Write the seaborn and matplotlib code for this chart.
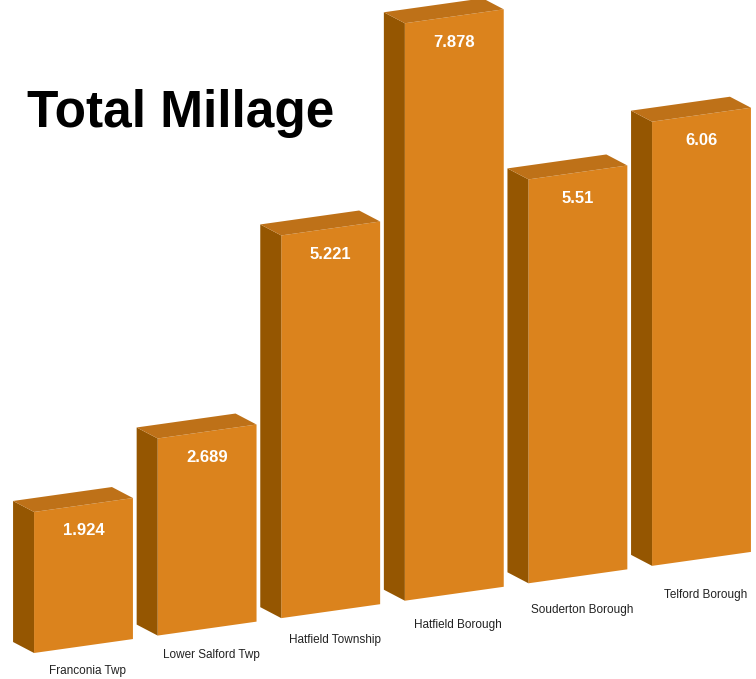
import numpy as np
import pandas as pd
import seaborn as sns
import matplotlib.pyplot as plt
from matplotlib.patches import Polygon
from matplotlib.transforms import Affine2D

# Data
places = ['Franconia Twp', 'Lower Salford Twp', 'Hatfield Township',
          'Hatfield Borough', 'Souderton Borough', 'Telford Borough']
millage = [1.924, 2.689, 5.221, 7.878, 5.51, 6.06]
value_labels = ['1.924', '2.689', '5.221', '7.878', '5.51', '6.06']

df = pd.DataFrame({'place': places, 'millage': millage})

# Colours of the three visible faces
front_col = '#DB831D'
side_col = '#955601'
top_col = '#BE7118'

sns.set_theme(style='white')
plt.rcParams['font.family'] = ['Liberation Sans', 'DejaVu Sans']

fig = plt.figure(figsize=(7.56, 6.79), dpi=100)
ax = fig.add_axes([0, 0, 1, 1])

sns.barplot(data=df, x='place', y='millage', order=places, color=front_col,
            saturation=1, width=0.8, linewidth=0, ax=ax)

# pixel scale: ~123.6 px per category, ~73.3 px per millage unit
ax.set_xlim(-83.5 / 123.6, (756 - 83.5) / 123.6)
ax.set_ylim(-21.2 / 73.3, (679 - 21.2) / 73.3)
ax.set_axis_off()

# oblique look: shear the whole drawing upward to the right
slope = 0.141
sheared = ax.transData + Affine2D().skew(0, np.arctan(slope))
label_line = ax.transData + Affine2D().skew(0, np.arctan(0.123))

# depth of the boxes (in data units, before shearing)
dx = -21 / 123.6
dy = (11 + slope * 21) / 73.3

for bar in ax.patches:
    bar.set_transform(sheared)
    x0 = bar.get_x()
    x1 = x0 + bar.get_width()
    h = bar.get_height()
    side = Polygon([(x0, 0), (x0, h), (x0 + dx, h + dy), (x0 + dx, dy)],
                   closed=True, facecolor=side_col, edgecolor='none',
                   transform=sheared)
    top = Polygon([(x0, h), (x1, h), (x1 + dx, h + dy), (x0 + dx, h + dy)],
                  closed=True, facecolor=top_col, edgecolor='none',
                  transform=sheared)
    ax.add_patch(side)
    ax.add_patch(top)

for i, (v, txt) in enumerate(zip(millage, value_labels)):
    ax.annotate(txt, xy=(i, v), xycoords=sheared, xytext=(0, -26),
                textcoords='offset pixels', ha='center', va='center',
                color='white', fontsize=12, fontweight='bold')

for i, name in enumerate(places):
    ax.annotate(name, xy=(i, 0), xycoords=label_line, xytext=(4, -23),
                textcoords='offset pixels', ha='center', va='center',
                color='#222222', fontsize=8.5)

fig.text(27 / 756, 1 - 127 / 679, 'Total Millage', ha='left', va='baseline',
         fontsize=37, fontweight='bold', color='black')

fig.savefig('out.png', dpi=100)
